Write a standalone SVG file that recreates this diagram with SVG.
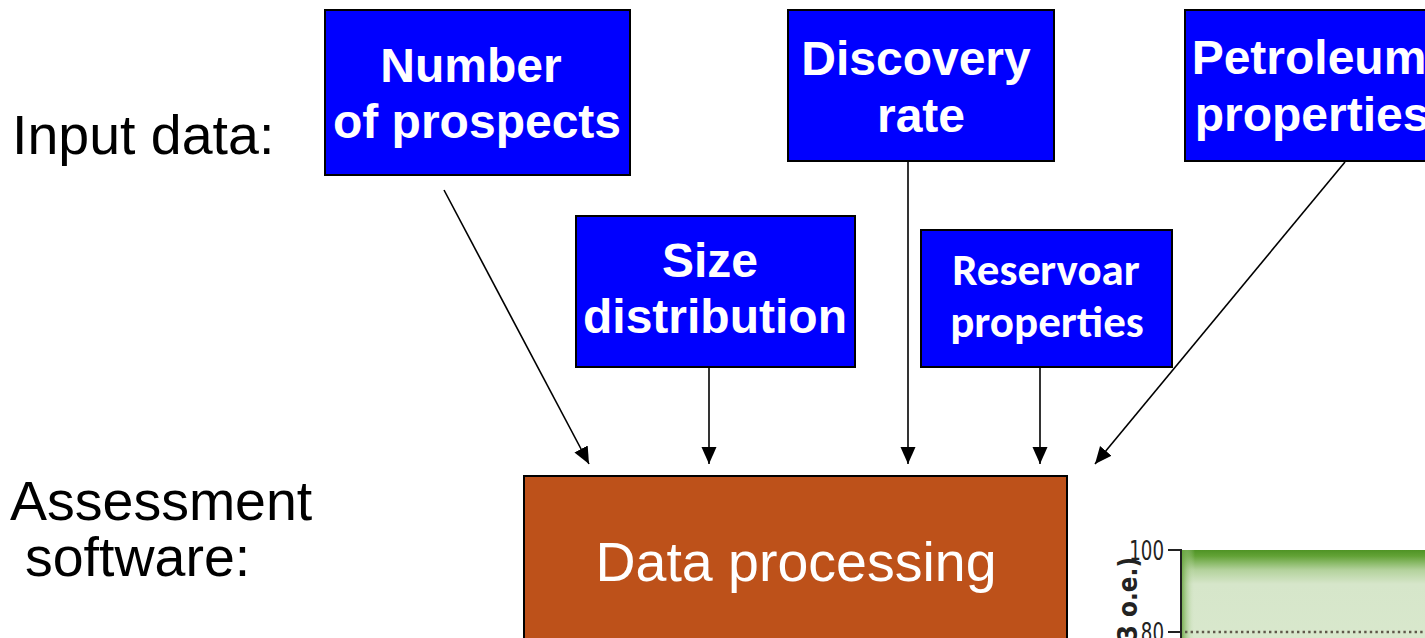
<svg xmlns="http://www.w3.org/2000/svg" width="1425" height="638" viewBox="0 0 1425 638">
  <style>
    .lbl { font-family: "Liberation Sans", Arial, sans-serif; font-size: 55.5px; fill: #000; }
    .box { fill: #0000FF; stroke: #000; stroke-width: 2; }
    .btxt { font-family: "Liberation Sans", Arial, sans-serif; font-weight: bold; font-size: 48px; fill: #fff; text-anchor: middle; }
    .ctxt { font-family: "Carlito", "Lato", sans-serif; font-weight: bold; font-size: 45px; fill: #fff; text-anchor: middle; }
    .conn line { stroke: #000; stroke-width: 1.6; marker-end: url(#head); }
    .axis { font-family: "DejaVu Sans Condensed", "Liberation Sans", sans-serif; fill: #222; }
  </style>
  <defs>
    <marker id="head" markerUnits="userSpaceOnUse" markerWidth="18" markerHeight="16" refX="17" refY="7.5" orient="auto">
      <path d="M0,0 L17,7.5 L0,15 Z" fill="#000"/>
    </marker>
    <linearGradient id="topFade" x1="0" y1="0" x2="0" y2="1">
      <stop offset="0" stop-color="#4f9325"/>
      <stop offset="0.06" stop-color="#62a236"/>
      <stop offset="0.2" stop-color="#b3d29c"/>
      <stop offset="0.34" stop-color="#d6e6ca"/>
      <stop offset="1" stop-color="#d9e8cd"/>
    </linearGradient>
    <linearGradient id="leftFade" x1="0" y1="0" x2="1" y2="0">
      <stop offset="0" stop-color="#62a236" stop-opacity="0.9"/>
      <stop offset="1" stop-color="#d9e8cd" stop-opacity="0"/>
    </linearGradient>
  </defs>

  <rect x="0" y="0" width="1425" height="638" fill="#fff"/>

  <!-- Row labels -->
  <text class="lbl" x="12" y="154">Input data:</text>
  <text class="lbl" x="10" y="520">Assessment</text>
  <text class="lbl" x="25" y="576">software:</text>

  <!-- Input nodes -->
  <g id="node-prospects">
    <rect class="box" x="325" y="10" width="305" height="165"/>
    <text class="btxt" x="471" y="82">Number</text>
    <text class="btxt" x="477" y="138">of prospects</text>
  </g>
  <g id="node-discovery">
    <rect class="box" x="788" y="10" width="266" height="151"/>
    <text class="btxt" x="916" y="75">Discovery</text>
    <text class="btxt" x="921" y="132">rate</text>
  </g>
  <g id="node-petroleum">
    <rect class="box" x="1185" y="10" width="260" height="151"/>
    <text class="btxt" x="1309" y="74">Petroleum</text>
    <text class="btxt" x="1312" y="131">properties</text>
  </g>
  <g id="node-size">
    <rect class="box" x="576" y="216" width="279" height="151"/>
    <text class="btxt" x="710" y="277">Size</text>
    <text class="btxt" x="715" y="333">distribution</text>
  </g>
  <g id="node-reservoar">
    <rect class="box" x="921" y="230" width="251" height="137"/>
    <text class="ctxt" x="1046" y="285">Reservoar</text>
    <text class="ctxt" x="1047" y="337">properties</text>
  </g>

  <!-- Processing node -->
  <g id="node-processing">
    <rect x="524" y="476" width="543" height="180" fill="#BD511A" stroke="#000" stroke-width="2"/>
    <text x="796" y="581" font-family="Liberation Sans, Arial, sans-serif" font-size="55.5" fill="#fff" text-anchor="middle">Data processing</text>
  </g>

  <!-- Connectors -->
  <g id="connectors" class="conn">
    <line x1="444" y1="190" x2="589" y2="464"/>
    <line x1="709" y1="367" x2="709" y2="464"/>
    <line x1="908" y1="161" x2="908" y2="464"/>
    <line x1="1040" y1="367" x2="1040" y2="464"/>
    <line x1="1345" y1="162" x2="1095" y2="464"/>
  </g>

  <!-- Chart corner -->
  <g id="chart">
    <rect x="1181" y="550" width="250" height="100" fill="url(#topFade)"/>
    <rect x="1181" y="550" width="14" height="100" fill="url(#leftFade)"/>
    <line x1="1185" y1="632" x2="1425" y2="632" stroke="#5f584a" stroke-width="2.6" stroke-dasharray="2.4 3.2"/>
    <line x1="1181" y1="549" x2="1181" y2="640" stroke="#222" stroke-width="2"/>
    <line x1="1168" y1="550" x2="1182" y2="550" stroke="#222" stroke-width="2"/>
    <line x1="1168" y1="632" x2="1182" y2="632" stroke="#222" stroke-width="2"/>
    <text class="axis" font-size="26" text-anchor="end" transform="translate(1164,560) scale(0.78,1)">100</text>
    <text class="axis" font-size="26" text-anchor="end" transform="translate(1164,642) scale(0.78,1)">80</text>
    <text font-family="DejaVu Sans, sans-serif" font-weight="bold" font-size="27" fill="#222" text-anchor="end" transform="translate(1137,557) rotate(-90) scale(0.86,1)">3 o.e.)</text>
  </g>
</svg>
